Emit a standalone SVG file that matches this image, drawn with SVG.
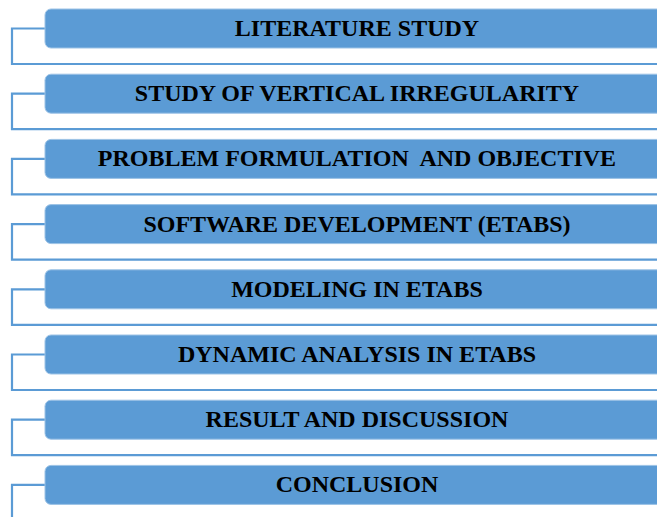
<svg xmlns="http://www.w3.org/2000/svg" width="657" height="517" viewBox="0 0 657 517">
<style>
.box{fill:#5B9BD5;stroke:#9DC3E6;stroke-width:1}
.conn{fill:none;stroke:#5B9BD5;stroke-width:2.2}
.lbl{font-family:"Liberation Serif","Times New Roman",serif;font-weight:bold;font-size:24px;fill:#000;text-anchor:middle}
</style>
<rect width="657" height="517" fill="#fff"/>
<g id="connectors">
<path class="conn" d="M46,28.5 H12 V64 H657"/>
<path class="conn" d="M46,93.7 H12 V129.2 H657"/>
<path class="conn" d="M46,158.9 H12 V194.4 H657"/>
<path class="conn" d="M46,224.1 H12 V259.6 H657"/>
<path class="conn" d="M46,289.3 H12 V324.8 H657"/>
<path class="conn" d="M46,354.5 H12 V390 H657"/>
<path class="conn" d="M46,419.7 H12 V455.2 H657"/>
<path class="conn" d="M46,484.9 H12 V520"/>
</g>
<g id="n1"><rect class="box" x="45" y="9" width="630" height="39" rx="6"/><text class="lbl" x="357" y="36">LITERATURE STUDY</text></g>
<g id="n2"><rect class="box" x="45" y="74.2" width="630" height="39" rx="6"/><text class="lbl" x="357" y="101.2">STUDY OF VERTICAL IRREGULARITY</text></g>
<g id="n3"><rect class="box" x="45" y="139.4" width="630" height="39" rx="6"/><text class="lbl" x="357" y="166.4" xml:space="preserve">PROBLEM FORMULATION  AND OBJECTIVE</text></g>
<g id="n4"><rect class="box" x="45" y="204.6" width="630" height="39" rx="6"/><text class="lbl" x="357" y="231.6">SOFTWARE DEVELOPMENT (ETABS)</text></g>
<g id="n5"><rect class="box" x="45" y="269.8" width="630" height="39" rx="6"/><text class="lbl" x="357" y="296.8">MODELING IN ETABS</text></g>
<g id="n6"><rect class="box" x="45" y="335" width="630" height="39" rx="6"/><text class="lbl" x="357" y="362">DYNAMIC ANALYSIS IN ETABS</text></g>
<g id="n7"><rect class="box" x="45" y="400.2" width="630" height="39" rx="6"/><text class="lbl" x="357" y="427.2">RESULT AND DISCUSSION</text></g>
<g id="n8"><rect class="box" x="45" y="465.4" width="630" height="39" rx="6"/><text class="lbl" x="357" y="492.4">CONCLUSION</text></g>
</svg>
